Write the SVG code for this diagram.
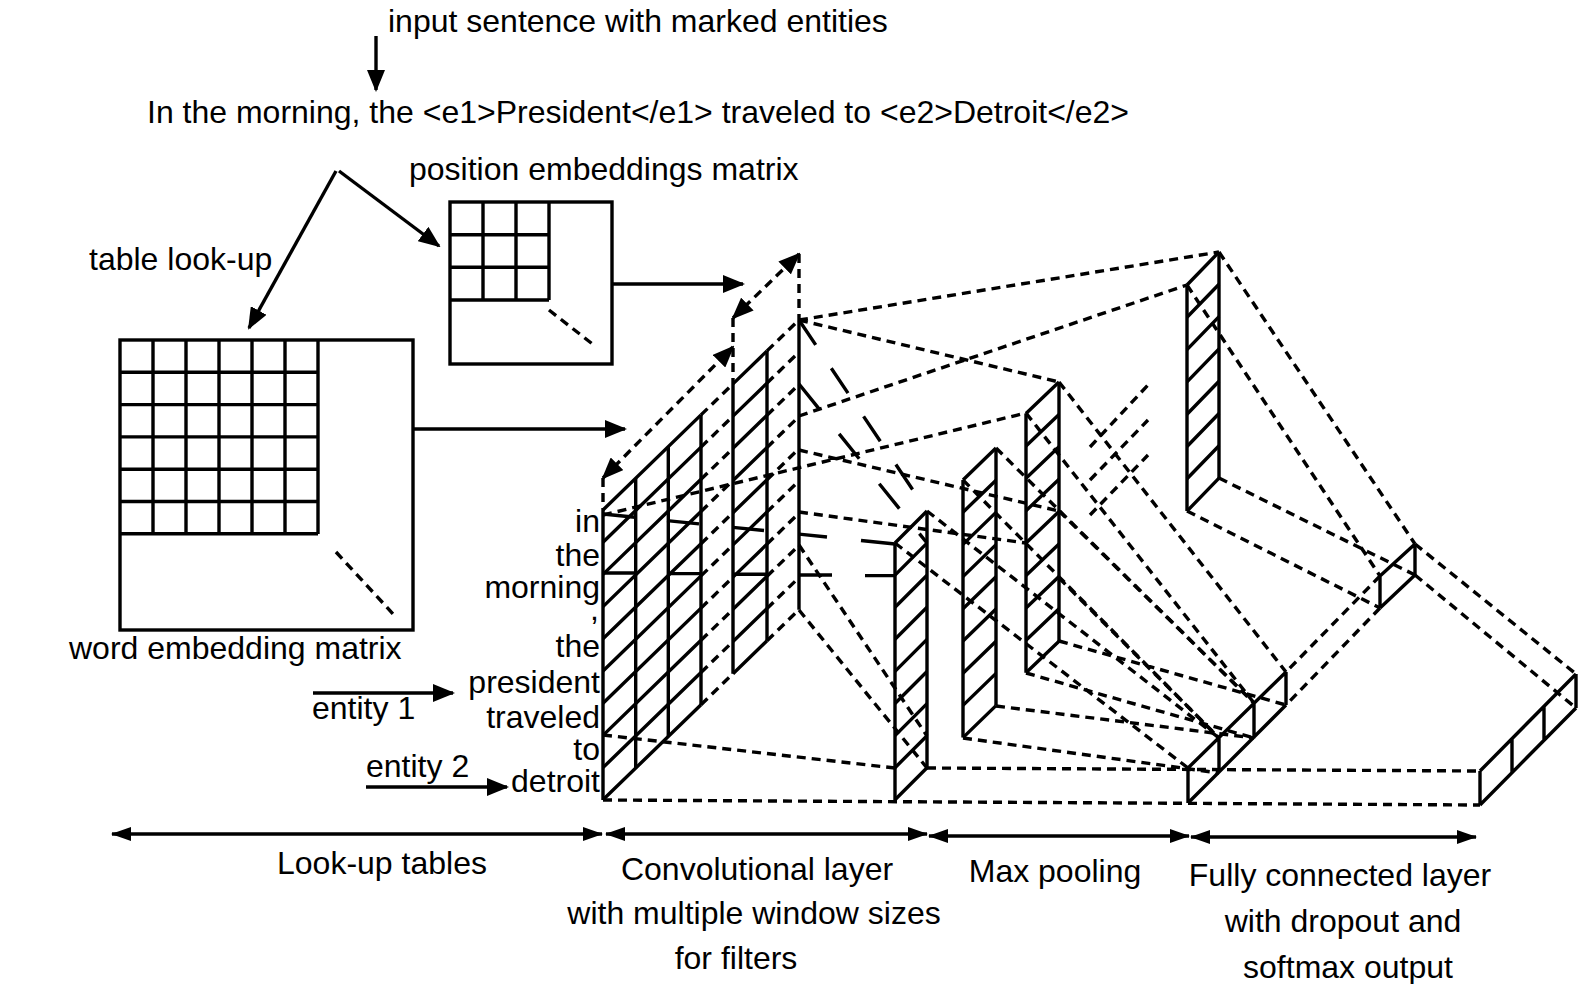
<svg xmlns="http://www.w3.org/2000/svg" width="1594" height="984" viewBox="0 0 1594 984">
<style>
text{font-family:"Liberation Sans",Arial,Helvetica,sans-serif;font-size:32px;fill:#000}
.s{stroke:#000;stroke-width:3.4;fill:none;stroke-linecap:butt}
.d{stroke:#000;stroke-width:3.4;fill:none;stroke-dasharray:9 6}
</style>
<defs>
<marker id="ah" viewBox="0 0 22 18" refX="20" refY="9" markerWidth="22" markerHeight="18" markerUnits="userSpaceOnUse" orient="auto-start-reverse"><path d="M0,0 L22,9 L0,18 z" fill="#000" stroke="none"/></marker>
<marker id="ahs" viewBox="0 0 20 14" refX="19" refY="7" markerWidth="20" markerHeight="14" markerUnits="userSpaceOnUse" orient="auto-start-reverse"><path d="M0,0 L20,7 L0,14 z" fill="#000" stroke="none"/></marker>
</defs>
<rect width="1594" height="984" fill="#fff"/>

<g id="texts">
<text x="388" y="32">input sentence with marked entities</text>
<text x="147" y="123">In the morning, the &lt;e1&gt;President&lt;/e1&gt; traveled to &lt;e2&gt;Detroit&lt;/e2&gt;</text>
<text x="409" y="180">position embeddings matrix</text>
<text x="89" y="270">table look-up</text>
<text x="69" y="659">word embedding matrix</text>
<text x="312" y="719">entity 1</text>
<text x="366" y="777">entity 2</text>
<g text-anchor="end">
<text x="600" y="532">in</text>
<text x="600" y="566">the</text>
<text x="600" y="598">morning</text>
<text x="599" y="620">,</text>
<text x="600" y="657">the</text>
<text x="600" y="693">president</text>
<text x="600" y="728">traveled</text>
<text x="600" y="760">to</text>
<text x="600" y="792">detroit</text>
</g>
<text x="277" y="874">Look-up tables</text>
<g text-anchor="middle">
<text x="757" y="880">Convolutional layer</text>
<text x="754" y="924">with multiple window sizes</text>
<text x="736" y="969">for filters</text>
<text x="1055" y="882">Max pooling</text>
<text x="1340" y="886">Fully connected layer</text>
<text x="1343" y="932">with dropout and</text>
<text x="1348" y="978">softmax output</text>
</g>
</g>

<g id="word-embedding-matrix">
<rect x="120" y="340" width="293" height="290" class="s"/>
<path class="s" d="M153,340V534M186,340V534M219,340V534M252,340V534M285,340V534M318,340V534M120,372.3H318M120,404.6H318M120,436.9H318M120,469.2H318M120,501.5H318M120,533.8H318"/>
<line class="d" x1="336" y1="552" x2="394" y2="615"/>
</g>

<g id="position-embedding-matrix">
<rect x="450" y="202" width="162" height="162" class="s"/>
<path class="s" d="M483,202V300M516,202V300M549,202V300M450,234.7H549M450,267.3H549M450,300H549"/>
<line class="d" x1="549" y1="310" x2="595" y2="346"/>
</g>

<g id="input-block">
<path class="s" d="M603,510V800M635.7,478.3V768.3M668.3,446.7V736.7M701,415V705"/>
<path class="s" d="M603,510L701,414.9M603,542.2L701,447.1M603,574.4L701,479.3M603,606.6L701,511.5M603,638.8L701,543.7M603,671L701,575.9M603,703.2L701,608.1M603,735.4L701,640.3M603,767.6L701,672.5M603,799.8L701,704.7"/>
<path class="s" d="M733,383.9V673.7M767,350.9V640.7"/>
<path class="s" d="M733,383.9L767,350.9M733,416.1L767,383.1M733,448.3L767,415.3M733,480.5L767,447.5M733,512.7L767,479.7M733,544.9L767,511.9M733,577.1L767,544.1M733,609.3L767,576.3M733,641.5L767,608.5M733,673.7L767,640.7"/>
<path class="s" d="M799,319.9V609.7"/>
<path class="d" d="M701,414.9L733,383.9M701,447.1L733,416.1M701,479.3L733,448.3M701,511.5L733,480.5M701,543.7L733,512.7M701,575.9L733,544.9M701,608.1L733,577.1M701,640.3L733,609.3M701,672.5L733,641.5M701,704.7L733,673.7"/>
<path class="d" d="M767,350.9L799,319.9M767,383.1L799,352.1M767,415.3L799,384.3M767,447.5L799,416.5M767,479.7L799,448.7M767,511.9L799,480.9M767,544.1L799,513.1M767,576.3L799,545.3M767,608.5L799,577.5M767,640.7L799,609.7"/>
<path class="d" d="M603,478V510M733,318V384M799,254V320"/>
<line class="d" x1="603" y1="478" x2="733" y2="347" marker-start="url(#ah)" marker-end="url(#ah)"/>
<line class="d" x1="733" y1="318" x2="799" y2="254" marker-start="url(#ah)" marker-end="url(#ah)"/>
<path class="s" d="M603,514L635,517.3M667,520.6L699,523.9M733,527.4L764,530.5M799,534.1L827,537M861,540.5L895,544"/>
<path class="s" d="M603,573H635M667,573.6H701M733,574.3H767M799,575H832M865,575.6H895"/>
<line class="s" x1="799" y1="320" x2="927" y2="511" stroke-dasharray="30 28"/>
<line class="s" x1="799" y1="384" x2="927" y2="543" stroke-dasharray="32 32"/>
</g>

<g id="feature-map-D">
<path class="s" d="M895,543V800M927,511V768"/>
<path class="s" d="M895,543L927,511M895,575.1L927,543.1M895,607.2L927,575.2M895,639.3L927,607.3M895,671.4L927,639.4M895,703.5L927,671.5M895,735.6L927,703.6M895,767.7L927,735.7M895,799.8L927,767.8"/>
</g>

<g id="pool-E1">
<path class="s" d="M963,480V737.6M996,448V705.6"/>
<path class="s" d="M963,480L996,448M963,512.2L996,480.2M963,544.4L996,512.4M963,576.6L996,544.6M963,608.8L996,576.8M963,641L996,609M963,673.2L996,641.2M963,705.4L996,673.4M963,737.6L996,705.6"/>
</g>

<g id="pool-E2">
<path class="s" d="M1026,413.5V672.7M1059,382V641.2"/>
<path class="s" d="M1026,413.5L1059,382M1026,445.9L1059,414.4M1026,478.3L1059,446.8M1026,510.7L1059,479.2M1026,543.1L1059,511.6M1026,575.5L1059,544M1026,607.9L1059,576.4M1026,640.3L1059,608.8M1026,672.7L1059,641.2"/>
</g>

<g id="pool-E3">
<path class="s" d="M1187,285V511M1219,252V478"/>
<path class="s" d="M1187,285L1219,252M1187,317.3L1219,284.3M1187,349.6L1219,316.6M1187,381.9L1219,348.9M1187,414.2L1219,381.2M1187,446.5L1219,413.5M1187,478.8L1219,445.8M1187,511.1L1219,478.1"/>
</g>

<g id="pooled-F1">
<path class="s" d="M1380,576V608M1415,544V575M1380,576L1415,544M1380,608L1415,575"/>
</g>

<g id="pooled-G">
<path class="s" d="M1188,768V803M1286,672V705M1219,737.6V772.6M1254,703.3V738.3M1188,768L1286,672M1188,803L1286,705"/>
</g>

<g id="output-H">
<path class="s" d="M1480,771V805M1576,674V708M1512,738.6V772.6M1544,706.2V740.2M1480,771L1576,674M1480,805L1576,708"/>
</g>

<g id="connectors">
<line class="s" x1="376" y1="36" x2="376" y2="90" marker-end="url(#ah)"/>
<line class="s" x1="336" y1="171" x2="249" y2="328" marker-end="url(#ah)"/>
<line class="s" x1="339" y1="171" x2="439" y2="246" marker-end="url(#ah)"/>
<line class="s" x1="413" y1="429" x2="625" y2="429" marker-end="url(#ah)"/>
<line class="s" x1="612" y1="284" x2="743" y2="284" marker-end="url(#ah)"/>
<line class="s" x1="313" y1="693" x2="453" y2="693" marker-end="url(#ah)"/>
<line class="s" x1="366" y1="787" x2="507" y2="787" marker-end="url(#ah)"/>
<line class="s" x1="112" y1="834" x2="602" y2="834" marker-start="url(#ahs)" marker-end="url(#ahs)"/>
<line class="s" x1="606" y1="834" x2="927" y2="834" marker-start="url(#ahs)" marker-end="url(#ahs)"/>
<line class="s" x1="929" y1="836" x2="1189" y2="836" marker-start="url(#ahs)" marker-end="url(#ahs)"/>
<line class="s" x1="1191" y1="837" x2="1476" y2="837" marker-start="url(#ahs)" marker-end="url(#ahs)"/>

<path class="d" d="M799,320L1219,252M799,320L1059,382M799,416L1187,285M603,515L1026,413M799,450L1059,511M799,512L1026,543"/>
<path class="d" d="M603,735L895,768M799,545L927,736M799,610L927,768M603,800L1480,805M927,768L1480,771"/>
<path class="d" d="M927,511L1219,738M895,543L1188,768"/>
<path class="d" d="M996,448L1254,703M963,480L1219,738M996,706L1254,738M963,738L1219,773"/>
<path class="d" d="M1059,382L1286,672M1026,413L1254,703M1059,641L1286,705M1026,673L1254,738M1059,511L1254,703M1059,578L1219,738"/>
<path class="d" d="M1219,252L1415,544M1187,285L1380,576M1219,478L1415,575M1187,511L1380,608"/>
<path class="d" d="M1380,576L1286,672M1380,608L1286,705M1415,544L1576,674M1415,575L1576,708"/>
<path class="d" d="M1090,447L1148,385M1090,480L1148,420M1090,515L1148,455"/>
</g>
</svg>
